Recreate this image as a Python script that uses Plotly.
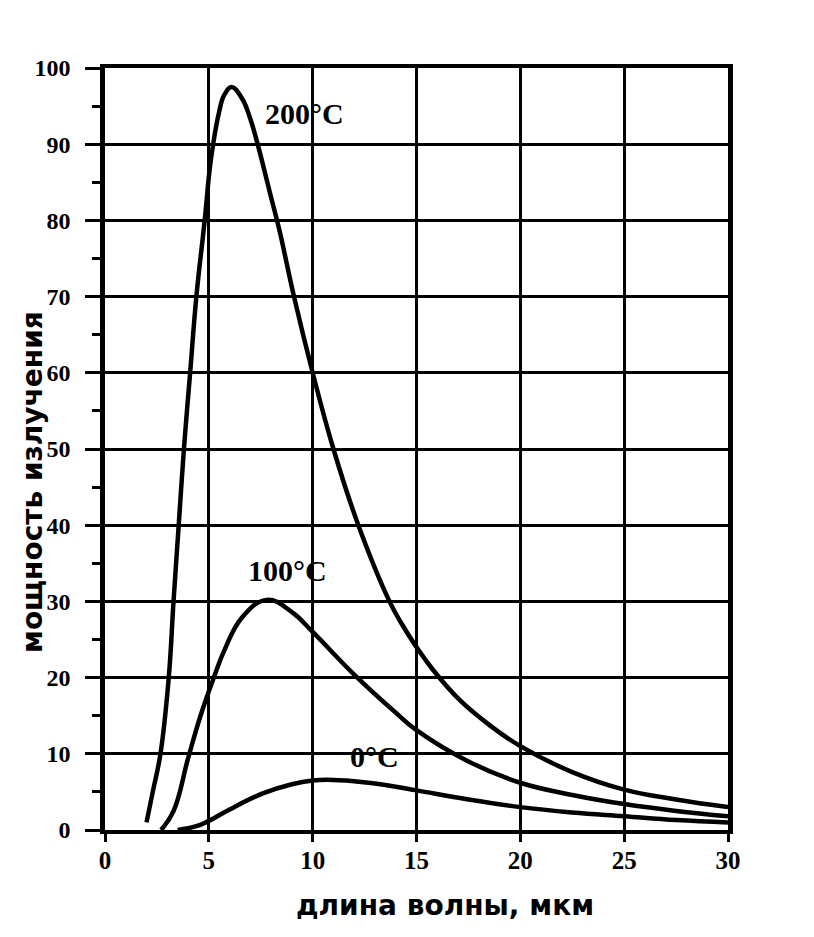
import plotly.graph_objects as go

# --- data ---
x_200 = [2.0, 2.3, 2.67, 3.07, 3.3, 3.55, 3.8, 4.1, 4.4, 4.8, 5.1, 5.5, 5.75, 6.1, 6.6, 7.0, 7.35, 8.0, 8.4, 9.1, 10.0, 11.0, 12.2, 13.7, 14.3, 15.0, 15.8, 17.1, 18.5, 20.0, 22.5, 25.0, 27.5, 30.0]
y_200 = [1.0, 5.0, 10.0, 20.0, 30.0, 40.0, 50.0, 60.0, 70.0, 80.0, 88.0, 94.3, 96.5, 97.5, 96.0, 93.3, 90.0, 83.0, 78.7, 70.0, 60.0, 50.0, 40.0, 30.0, 27.0, 24.0, 21.0, 17.0, 13.8, 11.0, 7.6, 5.3, 4.0, 3.0]

x_100 = [2.7, 3.3, 4.0, 4.6, 5.24, 5.72, 6.6, 7.8, 9.0, 10.0, 12.0, 14.0, 15.0, 17.5, 20.0, 22.5, 25.0, 27.5, 30.0]
y_100 = [0.0, 2.5, 9.4, 15.0, 20.0, 23.4, 27.9, 30.2, 28.6, 26.0, 20.4, 15.4, 13.1, 9.0, 6.2, 4.6, 3.4, 2.5, 1.8]

x_0 = [3.5, 4.4, 5.0, 6.0, 7.6, 9.0, 10.0, 10.7, 12.0, 13.5, 15.0, 17.5, 20.0, 22.5, 25.0, 27.5, 30.0]
y_0 = [0.0, 0.5, 1.2, 2.7, 4.8, 6.0, 6.5, 6.6, 6.4, 5.9, 5.2, 4.0, 3.0, 2.3, 1.8, 1.3, 1.0]

curve_labels = ["200°C", "100°C", "0°C"]
label_x = [9.6, 8.8, 13.0]
label_y = [94.0, 34.0, 9.6]

x_ticks = [0, 5, 10, 15, 20, 25, 30]
y_ticks = [0, 10, 20, 30, 40, 50, 60, 70, 80, 90, 100]

x_title = "длина волны, мкм"
y_title = "мощность излучения"

# --- figure ---
fig = go.Figure()
for xs, ys in [(x_200, y_200), (x_100, y_100), (x_0, y_0)]:
    fig.add_trace(go.Scatter(x=xs, y=ys, mode="lines",
                             line=dict(color="black", width=4.5, shape="spline", smoothing=1.2),
                             showlegend=False, hoverinfo="skip"))

serif = "Liberation Serif"
for t, xx, yy in zip(curve_labels, label_x, label_y):
    fig.add_annotation(x=xx, y=yy, text=t, showarrow=False,
                       font=dict(family=serif, size=30, color="black", weight="bold"),
                       xanchor="center", yanchor="middle")

OFF = 8  # page body margin
W, H = 814, 937
# desired plot-area pixel edges on the page
px_left, px_right, px_top, px_bottom = 105, 728, 68, 830
L = px_left - OFF
T = px_top - OFF
R = W - (px_right - OFF)
B = H - (px_bottom - OFF)
pw, ph = W - L - R, H - T - B


def paper_x(px):
    return (px - px_left) / pw


def paper_y(py):
    return (px_bottom - py) / ph


fig.add_annotation(xref="paper", yref="paper",
                   x=paper_x(445), y=paper_y(905),
                   text=x_title, showarrow=False,
                   font=dict(family="DejaVu Sans", size=28, color="black", weight="bold"),
                   xanchor="center", yanchor="middle")
fig.add_annotation(xref="paper", yref="paper",
                   x=paper_x(33), y=paper_y(482),
                   text=y_title, showarrow=False, textangle=-90,
                   font=dict(family="DejaVu Sans", size=28, color="black", weight="bold"),
                   xanchor="center", yanchor="middle")

fig.update_xaxes(range=[0, 30], tickvals=x_ticks, showgrid=True, gridcolor="black", gridwidth=2.5,
                 showline=True, linecolor="black", linewidth=4, mirror=True, zeroline=False,
                 ticks="outside", ticklen=8, tickwidth=3, tickcolor="black",
                 tickfont=dict(family=serif, size=25, color="black", weight="bold"),
                 ticklabelstandoff=-3)
fig.update_yaxes(range=[0, 100], tickvals=y_ticks, showgrid=True, gridcolor="black", gridwidth=2.5,
                 showline=True, linecolor="black", linewidth=4.5, mirror=True, zeroline=False,
                 ticks="outside", ticklen=15, tickwidth=3, tickcolor="black",
                 minor=dict(dtick=5, ticks="outside", ticklen=8, tickwidth=3, tickcolor="black", showgrid=False),
                 tickfont=dict(family=serif, size=24, color="black", weight="bold"),
                 ticklabelstandoff=10)
fig.update_layout(width=W, height=H, margin=dict(l=L, r=R, t=T, b=B, autoexpand=False),
                  paper_bgcolor="white", plot_bgcolor="white")

fig.write_html("out.html")
